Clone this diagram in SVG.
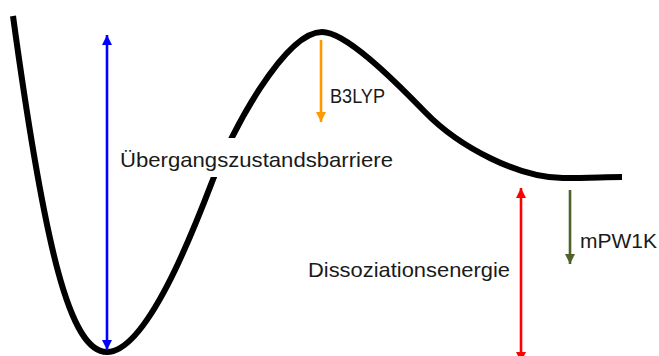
<svg xmlns="http://www.w3.org/2000/svg" width="659" height="356" viewBox="0 0 659 356">
<style>
.curve{fill:none;stroke:#000;stroke-width:6;stroke-linecap:butt}
.arr{fill:none;stroke-width:2.6}
.lbl{font-family:"Liberation Sans","Open Sans",Arial,sans-serif;font-size:21px;fill:#1a1a1a}
</style>
<defs>
<marker id="hb" viewBox="0 0 10 10" refX="10" refY="5" markerUnits="userSpaceOnUse" markerWidth="10" markerHeight="10" orient="auto-start-reverse"><path d="M0,0 L10,5 L0,10 z" fill="#0000ff"/></marker>
<marker id="ho" viewBox="0 0 10 10" refX="10" refY="5" markerUnits="userSpaceOnUse" markerWidth="10" markerHeight="10" orient="auto-start-reverse"><path d="M0,0 L10,5 L0,10 z" fill="#ff9900"/></marker>
<marker id="hr" viewBox="0 0 10 10" refX="10" refY="5" markerUnits="userSpaceOnUse" markerWidth="10" markerHeight="10" orient="auto-start-reverse"><path d="M0,0 L10,5 L0,10 z" fill="#ff0000"/></marker>
<marker id="hg" viewBox="0 0 10 10" refX="10" refY="5" markerUnits="userSpaceOnUse" markerWidth="10" markerHeight="10" orient="auto-start-reverse"><path d="M0,0 L10,5 L0,10 z" fill="#4f6228"/></marker>
</defs>
<g id="curve">
<path class="curve" d="M13,16 C45,250 70,352 107,352 C147,352 194,229 212,182 C231.6,130.6 285,32 322,32 C345,32 390,76 425,112 C459.8,147.9 520,178 563,178 C590,178 605,177 622,177"/>
</g>
<g id="connectors">
<line class="arr" x1="107" y1="35" x2="107" y2="350" stroke="#0000ff" marker-start="url(#hb)" marker-end="url(#hb)"/>
<line class="arr" x1="321" y1="40" x2="321" y2="122" stroke="#ff9900" marker-end="url(#ho)"/>
<line class="arr" x1="521" y1="188" x2="521" y2="362" stroke="#ff0000" marker-start="url(#hr)" marker-end="url(#hr)"/>
<line class="arr" x1="570" y1="190" x2="570" y2="264" stroke="#4f6228" marker-end="url(#hg)"/>
</g>
<g id="label-barriere">
<rect x="116" y="138" width="280" height="39" fill="#fff"/>
<text class="lbl" x="120" y="167" textLength="273" lengthAdjust="spacingAndGlyphs">Übergangszustandsbarriere</text>
</g>
<g id="label-b3lyp">
<text class="lbl" x="330" y="103" textLength="55" lengthAdjust="spacingAndGlyphs">B3LYP</text>
</g>
<g id="label-dissoziation">
<text class="lbl" x="308" y="277" textLength="202" lengthAdjust="spacingAndGlyphs">Dissoziationsenergie</text>
</g>
<g id="label-mpw1k">
<text class="lbl" x="580" y="248" textLength="77" lengthAdjust="spacingAndGlyphs">mPW1K</text>
</g>
</svg>
